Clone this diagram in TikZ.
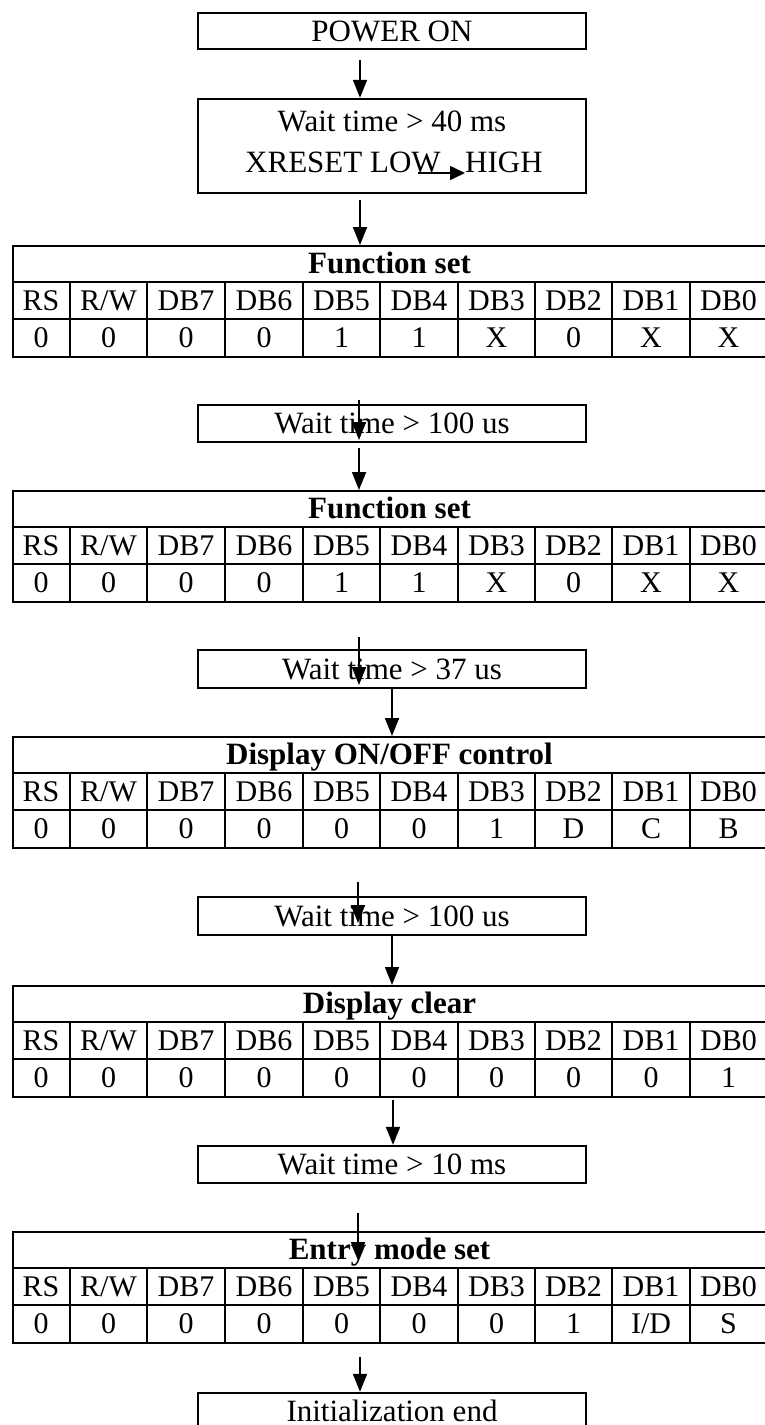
\documentclass[tikz,border=0pt]{standalone}
\usepackage{fontspec}
\setmainfont{Liberation Serif}
\usetikzlibrary{arrows.meta}
\tikzset{
  frame/.style={draw, line width=2.4pt, inner sep=0pt},
  box/.style={frame, minimum width=388pt, font=\fontsize{31}{36}\selectfont, text height=20.5pt, text depth=0pt},
  flow/.style={line width=1.8pt, -{Triangle[length=18pt,width=14pt]}},
  boxtxt/.style={font=\fontsize{31}{36}\selectfont, inner sep=0pt, text height=20.5pt, text depth=0pt},
  celltxt/.style={font=\fontsize{30}{36}\selectfont, inner sep=0pt, text height=19.9pt, text depth=0pt},
  titletxt/.style={font=\fontsize{31}{36}\selectfont\bfseries, inner sep=0pt, text height=20.5pt, text depth=0pt},
  gridline/.style={line width=1.6pt},
}
\newcommand{\regtable}[4]{%
  \node[frame, anchor=north west, minimum width=755pt, minimum height=111pt] (#2) at (12,#1) {};
  \draw[gridline] (12,#1+37) -- (767,#1+37) (12,#1+74) -- (767,#1+74);
  \foreach \xx in {70,147,225,303,380,458,535,612,690}
    \draw[gridline] (\xx,#1+37) -- (\xx,#1+111);
  \node[titletxt] (#2-t) at (389.5,#1+18.5) {#3};
  \foreach \hh [count=\ii] in {RS,R/W,DB7,DB6,DB5,DB4,DB3,DB2,DB1,DB0} {
    \pgfmathsetmacro\cx{{41,108.5,186,264,341.5,419,496.5,573.5,651,728.5}[\ii-1]}
    \node[celltxt] (#2-h\ii) at (\cx,#1+55.5) {\hh};
  }
  \foreach \vv [count=\ii] in {#4} {
    \pgfmathsetmacro\cx{{41,108.5,186,264,341.5,419,496.5,573.5,651,728.5}[\ii-1]}
    \node[celltxt] (#2-v\ii) at (\cx,#1+92.5) {\vv};
  }
}
\begin{document}
\begin{tikzpicture}[x=1pt,y=-1pt]
\useasboundingbox (0,0) rectangle (765,1425);
% boxes
\node[box, minimum height=36pt] (pwr) at (392,31) {POWER ON};
\node[frame, minimum width=388pt, minimum height=94pt] (w40) at (392,146) {};
\node[boxtxt, anchor=base] (w40a) at (392,131) {Wait time > 40 ms};
\node[boxtxt, anchor=base west] (xr) at (245,172) {XRESET LOW};
\node[boxtxt, anchor=base west] (hi) at (465,172) {HIGH};
\coordinate (lh1) at (418,173);
\coordinate (lh2) at (465,173);
\draw[line width=1.6pt, -{Triangle[length=15pt,width=14pt]}] (lh1) -- (lh2);

\regtable{245}{t1}{Function set}{0,0,0,0,1,1,X,0,X,X}
\node[box, minimum height=37pt] (b100a) at (392,423.5) {Wait time > 100 us};
\regtable{490}{t2}{Function set}{0,0,0,0,1,1,X,0,X,X}
\node[box, minimum height=38pt] (b37) at (392,669) {Wait time > 37 us};
\regtable{736}{t3}{Display ON/OFF control}{0,0,0,0,0,0,1,D,C,B}
\node[box, minimum height=38pt] (b100b) at (392,916) {Wait time > 100 us};
\regtable{985}{t4}{Display clear}{0,0,0,0,0,0,0,0,0,1}
\node[box, minimum height=37pt] (b10) at (392,1164.5) {Wait time > 10 ms};
\regtable{1231}{t5}{Entry mode set}{0,0,0,0,0,0,0,1,I/D,S}
\node[box, minimum height=37pt] (init) at (392,1411.5) {Initialization end};

% connectors
\coordinate (a1s) at (360,60);
\draw[flow] (a1s) -- (a1s |- w40.north);
\coordinate (a2s) at (360,200);
\draw[flow] (a2s) -- (a2s |- t1.north);
\coordinate (a3s) at (359,400);
\coordinate (a3e) at (359,440);
\draw[flow] (a3s) -- (a3e);
\coordinate (a4s) at (359,448);
\draw[flow] (a4s) -- (a4s |- t2.north);
\coordinate (a5s) at (359,637);
\coordinate (a5e) at (359,685);
\draw[flow] (a5s) -- (a5e);
\draw[flow] (b37.south) -- (b37.south |- t3.north);
\coordinate (a7s) at (358,882);
\coordinate (a7e) at (358,923);
\draw[flow] (a7s) -- (a7e);
\draw[flow] (b100b.south) -- (b100b.south |- t4.north);
\coordinate (a9s) at (393,1100);
\draw[flow] (a9s) -- (a9s |- b10.north);
\coordinate (a10s) at (358,1213);
\coordinate (a10e) at (358,1260);
\draw[flow] (a10s) -- (a10e);
\coordinate (a11s) at (360,1357);
\draw[flow] (a11s) -- (a11s |- init.north);
\end{tikzpicture}
\end{document}
